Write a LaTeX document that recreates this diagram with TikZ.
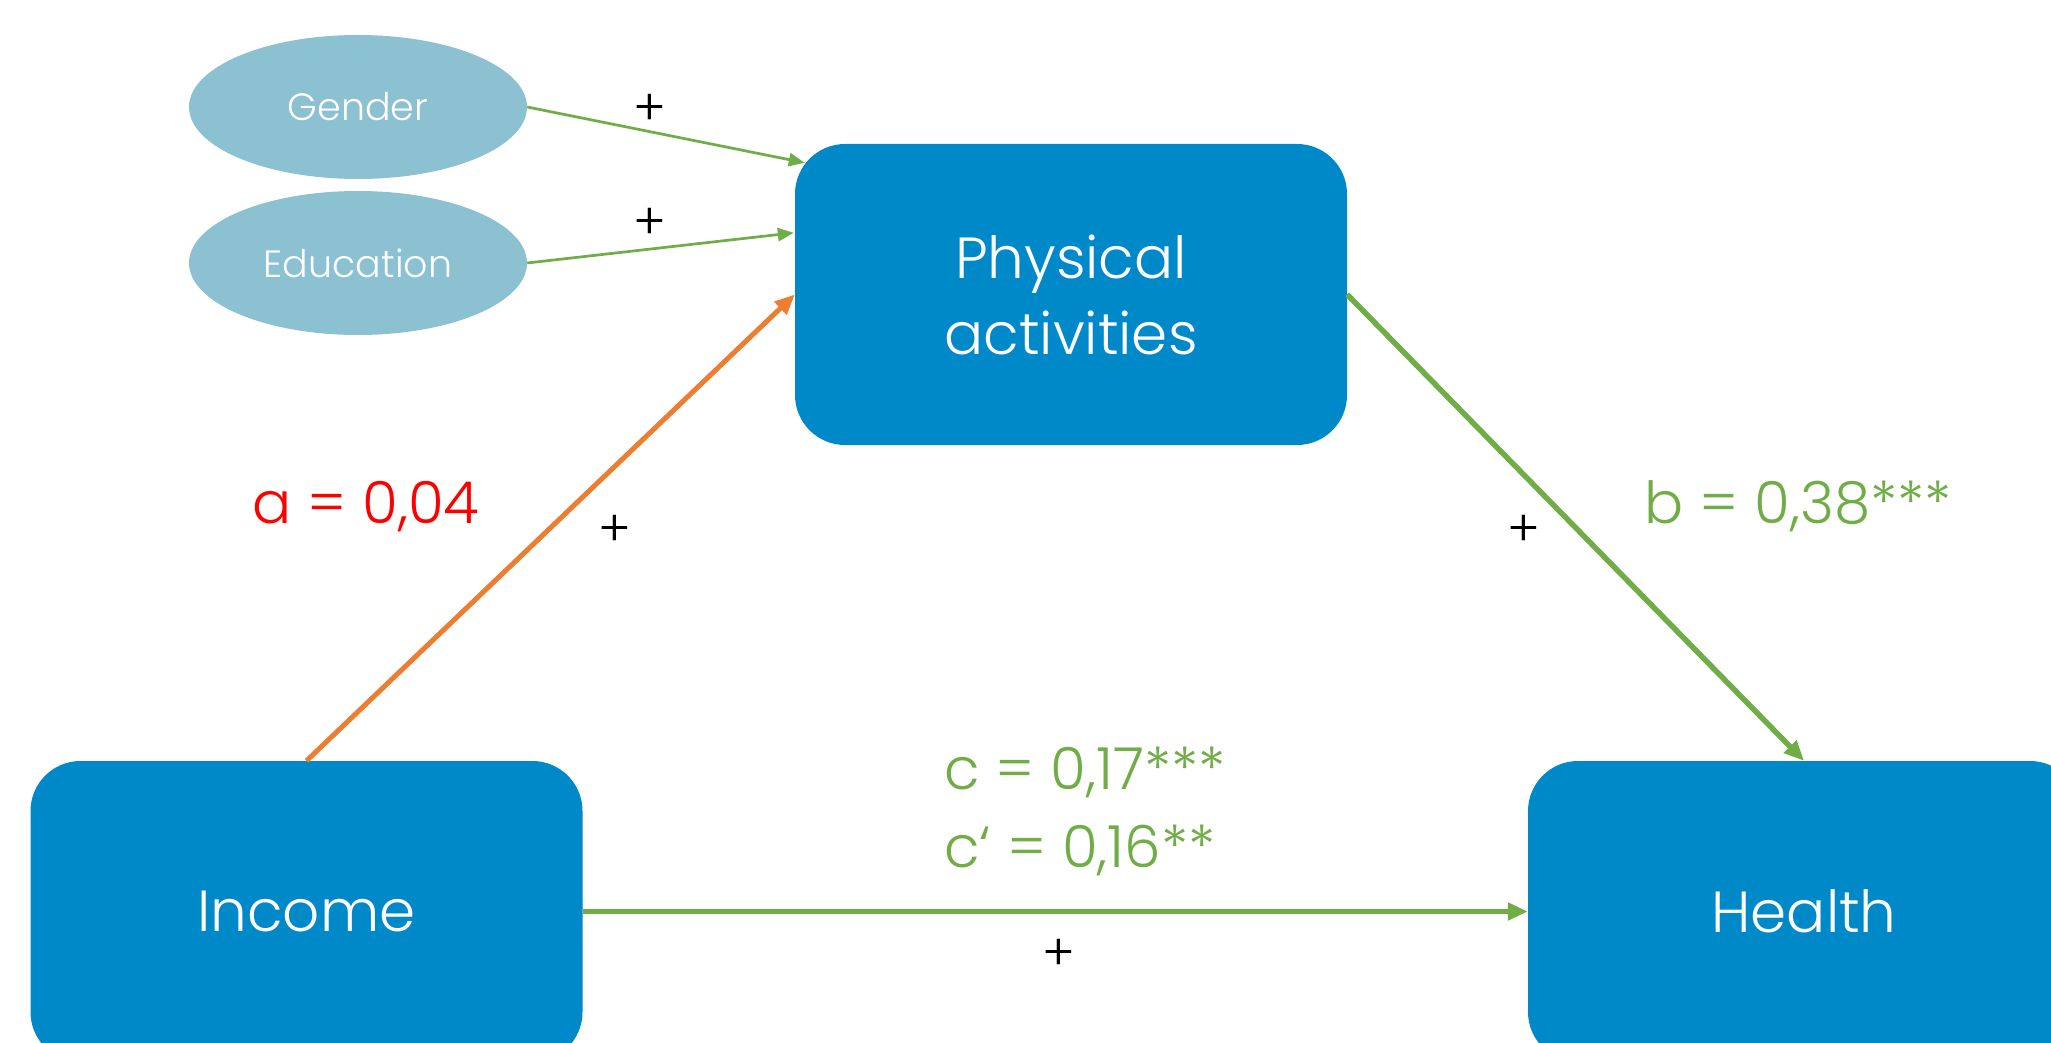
\documentclass[tikz,border=0pt]{standalone}
\usepackage{fontspec}
\setmainfont{Poppins}[UprightFont={* Light}]
\usetikzlibrary{arrows.meta,shapes.geometric}
\definecolor{boxblue}{RGB}{0,137,201}
\definecolor{ellblue}{RGB}{139,193,209}
\definecolor{lgreen}{RGB}{112,173,71}
\definecolor{lorange}{RGB}{237,125,49}
\begin{document}
\begin{tikzpicture}[x=1pt,y=-1pt,
  mainbox/.style={draw=none, fill=boxblue, rounded corners=50pt, minimum width=552pt, minimum height=301pt, text=white, font=\fontsize{58}{76}\selectfont, align=center, inner sep=0pt},
  ell/.style={ellipse, draw=none, fill=ellblue, minimum width=338pt, minimum height=144pt, text=white, font=\fontsize{38}{44}\selectfont, inner sep=0pt},
  thinarrow/.style={draw=lgreen, line width=2.7pt, -{Triangle[length=16pt,width=13pt]}},
  thickarrow/.style={line width=5.5pt, -{Triangle[length=20pt,width=17pt]}},
  pluslab/.style={font=\fontsize{50}{54}\selectfont, inner sep=0pt},
  coef/.style={font=\fontsize{58}{70}\selectfont, inner sep=0pt, anchor=base west}]
\useasboundingbox (0,0) rectangle (2051,1043);
\fill[white] (0,0) rectangle (2051,1043);
\clip (0,0) rectangle (2051,1043);

\node[ell] (gender) at (358,107) {Gender};
\node[ell] (education) at (358,263) {Education};
\node[mainbox] (pa) at (1071,294.5) {Physical\\activities};
\node[mainbox] (income) at (306.5,911.5) {Income};
\node[mainbox] (health) at (1804,911.5) {Health};

\draw[thinarrow] (gender.east) -- ([shift={(10,19)}]pa.north west);
\draw[thinarrow] (education.east) -- ([shift={(-1,89)}]pa.north west);
\draw[thickarrow, draw=lorange, line width=5pt] (income.north) -- (pa.west);
\draw[thickarrow, draw=lgreen] (pa.east) -- (health.north);
\draw[thickarrow, draw=lgreen] (income.east) -- (health.west);

\node[pluslab] (p1) at (650,110) {+};
\node[pluslab] (p2) at (650,224) {+};
\node[pluslab] (p3) at (615,531) {+};
\node[pluslab] (p4) at (1524,531) {+};
\node[pluslab] (p5) at (1059,955) {+};

\node[coef, text=red] (alab) at (252,523) {a = 0,04};
\node[coef, text=lgreen] (blab) at (1644,523) {b = 0,38***};
\node[coef, text=lgreen] (clab) at (944,789) {c = 0,17***};
\node[coef, text=lgreen] (cplab) at (944,867) {c‘ = 0,16**};
\end{tikzpicture}
\end{document}
